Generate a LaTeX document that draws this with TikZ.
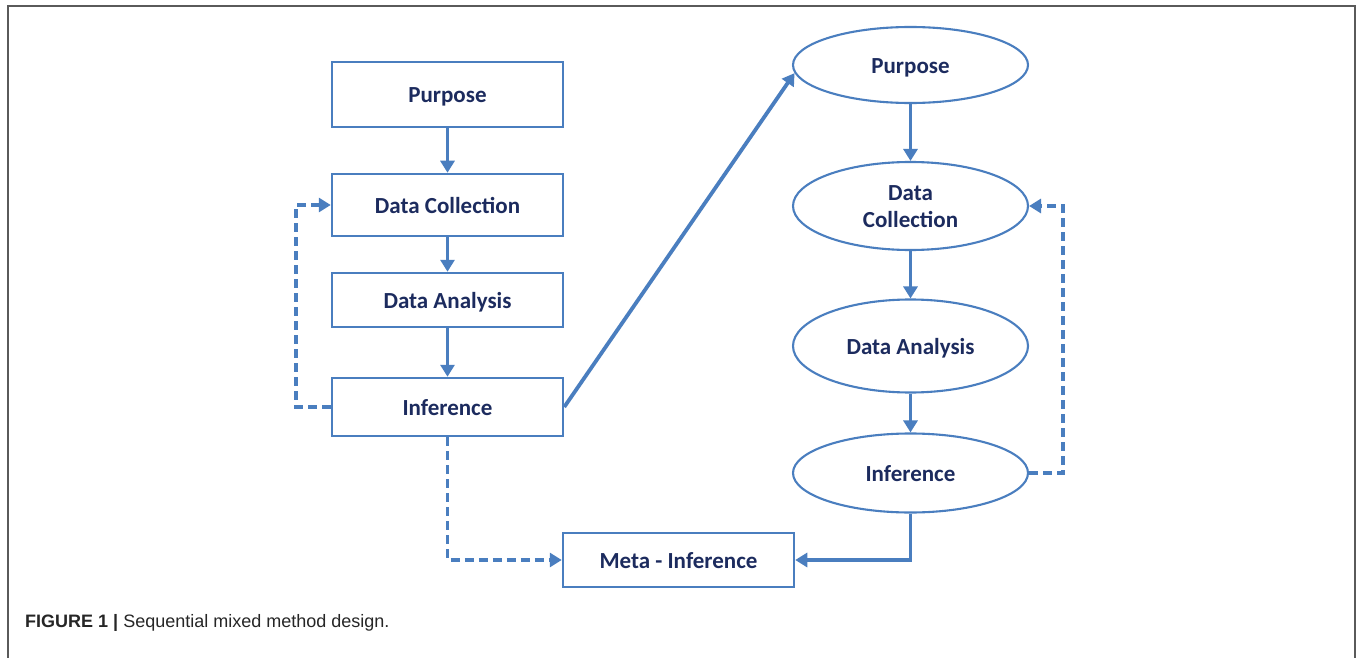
\documentclass[tikz,border=0pt]{standalone}
\usepackage{fontspec}
\setmainfont{Carlito}
\newfontfamily\capfont{Liberation Sans}
\usetikzlibrary{arrows.meta,shapes.geometric}
\definecolor{flowblue}{HTML}{4A7EBF}
\definecolor{labelnavy}{HTML}{1C2B5E}
\definecolor{framegray}{HTML}{5A5A5A}
\begin{document}
\begin{tikzpicture}[x=1pt,y=-1pt,
  stagebox/.style={draw=flowblue,line width=2.5pt,fill=white,rectangle,
    minimum width=231pt,inner sep=2pt,text=labelnavy,
    text height=17pt,text depth=0pt,
    font=\bfseries\fontsize{23}{26}\selectfont},
  stageoval/.style={draw=flowblue,line width=2.1pt,fill=white,ellipse,
    minimum width=235pt,inner sep=0pt,text=labelnavy,
    font=\bfseries\fontsize{23}{27}\selectfont},
  oneline/.style={text height=17pt,text depth=0pt},
  flow/.style={draw=flowblue,line width=3.8pt,
    -{Triangle[length=12pt,width=14pt]}},
  loop/.style={flow,dash pattern=on 9pt off 5pt}]
\useasboundingbox (0,0) rectangle (1358,658);
\fill[white] (0,0) rectangle (1358,658);
% open frame around the figure
\draw[framegray,line width=2pt] (8,658) -- (8,6) -- (1355,6) -- (1355,658);

% first strand: rectangles
\node[stagebox,minimum height=65pt] (p1) at (447.5,94.5) {Purpose};
\node[stagebox,minimum height=62pt] (c1) at (447.5,205) {Data Collection};
\node[stagebox,minimum height=54pt] (a1) at (447.5,300) {Data Analysis};
\node[stagebox,minimum height=58pt] (i1) at (447.5,407) {Inference};
\node[stagebox,minimum height=54pt] (m) at (678.5,560) {Meta - Inference};

% second strand: ellipses
\node[stageoval,oneline,minimum height=76pt] (p2) at (910.5,65) {Purpose};
\node[stageoval,align=center,minimum height=88pt] (c2) at (910.5,206)
  {\rule{0pt}{16pt}Data\\Collection};
\node[stageoval,oneline,minimum height=93pt] (a2) at (910.5,346) {Data Analysis};
\node[stageoval,oneline,minimum height=79pt] (i2) at (910.5,473) {Inference};

% turning points of the feedback loops
\coordinate (ll) at (296,0);
\coordinate (rr) at (1063,0);

% solid flow
\draw[flow] (p1) -- (c1);
\draw[flow] (c1) -- (a1);
\draw[flow] (a1) -- (i1);
\draw[flow] (i1.east) -- (p2.184);
\draw[flow] (p2) -- (c2);
\draw[flow] (c2) -- (a2);
\draw[flow] (a2) -- (i2);
\draw[flow] (i2.south) |- (m.east);

% dashed feedback
\draw[loop] (i1.west) -- (i1.west -| ll) -- (c1.west -| ll) -- (c1.west);
\draw[loop] (i2.east) -- (i2.east -| rr) -- (c2.east -| rr) -- (c2.east);
\draw[loop] (i1.south) |- (m.west);

% caption
\node[anchor=base west,inner sep=0pt,font=\capfont\fontsize{18}{21}\selectfont,text=black!85]
  (cap) at (25,627) {\textbf{FIGURE 1 |} Sequential mixed method design.};
\end{tikzpicture}
\end{document}
